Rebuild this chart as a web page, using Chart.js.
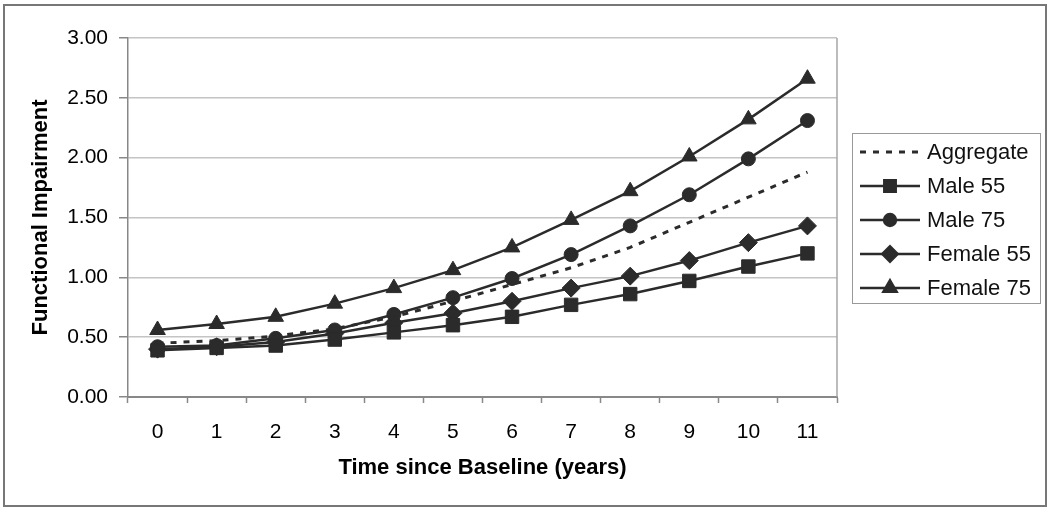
<!DOCTYPE html>
<html>
<head>
<meta charset="utf-8">
<script src="https://cdn.jsdelivr.net/npm/chart.js@4/dist/chart.umd.min.js"></script>
<style>
  html, body { margin: 0; padding: 0; background: #fff; }
  #wrap { width: 1050px; height: 514px; position: relative; }
</style>
</head>
<body>
<div id="wrap"><canvas id="chart" width="1050" height="514"></canvas></div>
<script>
// =============================
// DATA
// =============================

const years = ['0', '1', '2', '3', '4', '5', '6', '7', '8', '9', '10', '11'];

const aggregate = [0.45, 0.47, 0.51, 0.57, 0.67, 0.80, 0.94, 1.08, 1.25, 1.46, 1.67, 1.88];
const male55    = [0.39, 0.41, 0.43, 0.48, 0.54, 0.60, 0.67, 0.77, 0.86, 0.97, 1.09, 1.20];
const male75    = [0.42, 0.43, 0.49, 0.56, 0.69, 0.83, 0.99, 1.19, 1.43, 1.69, 1.99, 2.31];
const female55  = [0.40, 0.42, 0.46, 0.53, 0.62, 0.70, 0.80, 0.91, 1.01, 1.14, 1.29, 1.43];
const female75  = [0.56, 0.61, 0.67, 0.78, 0.91, 1.06, 1.25, 1.48, 1.72, 2.01, 2.32, 2.66];

const yTicks = [0, 0.5, 1, 1.5, 2, 2.5, 3];

const ink = '#2b2b2b';
const font = 'Liberation Sans, Arial, sans-serif';

Chart.defaults.font.family = font;
Chart.defaults.color = '#000';


// =============================
// SERIES
// =============================

function series(label, data, style, radius) {
  return {
    label: label,
    data: data,
    borderColor: ink,
    backgroundColor: ink,
    borderWidth: 2.5,
    pointStyle: style,
    pointRadius: radius,
    pointHoverRadius: radius,
    pointBorderWidth: 1,
    tension: 0
  };
}

const datasets = [
  {
    label: 'Aggregate',
    data: aggregate,
    borderColor: ink,
    backgroundColor: ink,
    borderWidth: 3,
    borderDash: [6, 7],
    pointRadius: 0,
    pointStyle: false,
    tension: 0
  },
  series('Male 55', male55, 'rect', 9.5),
  series('Male 75', male75, 'circle', 7),
  series('Female 55', female55, 'rectRot', 9),
  series('Female 75', female75, 'triangle', 9)
];


// =============================
// FRAME + LEGEND PLUGIN
// =============================

function marker(ctx, style, r, x, y) {
  if (!style) return;
  const opts = { pointStyle: style, radius: r, rotation: 0, borderWidth: 1 };
  Chart.helpers.drawPoint(ctx, opts, x, y);
}

const frame = {
  id: 'frame',
  afterDraw(chart) {
    const ctx = chart.ctx;
    const area = chart.chartArea;
    ctx.save();

    // plot area right edge
    ctx.strokeStyle = '#a6a6a6';
    ctx.lineWidth = 1.5;
    ctx.beginPath();
    ctx.moveTo(area.right, area.top);
    ctx.lineTo(area.right, area.bottom);
    ctx.stroke();

    // outer border
    ctx.strokeStyle = '#777';
    ctx.lineWidth = 2;
    ctx.strokeRect(4, 5, 1042, 501);

    // legend box
    ctx.strokeStyle = '#999';
    ctx.lineWidth = 1;
    ctx.strokeRect(852.5, 133.5, 188, 170);

    ctx.font = '22px ' + font;
    ctx.textBaseline = 'middle';
    ctx.textAlign = 'left';

    chart.data.datasets.forEach((ds, i) => {
      const y = 152 + i * 34;
      ctx.strokeStyle = ink;
      ctx.fillStyle = ink;
      ctx.lineWidth = ds.borderWidth;
      ctx.setLineDash(ds.borderDash || []);
      ctx.beginPath();
      ctx.moveTo(860, y);
      ctx.lineTo(920, y);
      ctx.stroke();
      ctx.setLineDash([]);
      marker(ctx, ds.pointStyle, ds.pointRadius * 0.85, 890, y);
      ctx.fillStyle = '#111';
      ctx.fillText(ds.label, 927, y + 1);
    });

    ctx.restore();
  }
};


// =============================
// CHART
// =============================

new Chart(document.getElementById('chart'), {
  type: 'line',
  data: {
    labels: years,
    datasets: datasets
  },
  plugins: [frame],
  options: {
    responsive: false,
    animation: false,
    layout: {
      padding: { left: 0, top: 38, right: 213, bottom: 0 }
    },
    plugins: {
      legend: { display: false },
      tooltip: { enabled: false }
    },
    scales: {
      x: {
        type: 'category',
        offset: true,
        afterFit(scale) { scale.height = 117; },
        grid: {
          offset: true,
          drawOnChartArea: false,
          drawTicks: true,
          tickLength: 6,
          tickColor: '#888',
          tickWidth: 1.5
        },
        border: { color: '#888', width: 2 },
        ticks: {
          font: { size: 21 },
          color: '#000',
          padding: 17,
          maxRotation: 0
        },
        title: {
          display: true,
          text: 'Time since Baseline (years)',
          font: { size: 22, weight: 'bold' },
          color: '#000',
          padding: { top: 0, bottom: 33 }
        }
      },
      y: {
        min: 0,
        max: 3,
        afterFit(scale) { scale.width = 128; },
        afterBuildTicks(scale) {
          scale.ticks = yTicks.map(v => ({ value: v }));
        },
        grid: {
          color: '#c4c4c4',
          lineWidth: 1.5,
          tickLength: 9,
          tickColor: '#888'
        },
        border: { color: '#888', width: 1.5 },
        ticks: {
          font: { size: 21 },
          color: '#000',
          padding: 11,
          callback: v => Number(v).toFixed(2)
        },
        title: {
          display: true,
          text: 'Functional Impairment',
          font: { size: 22, weight: 'bold' },
          color: '#000',
          padding: { top: 28, bottom: 0 }
        }
      }
    }
  }
});
</script>
</body>
</html>
